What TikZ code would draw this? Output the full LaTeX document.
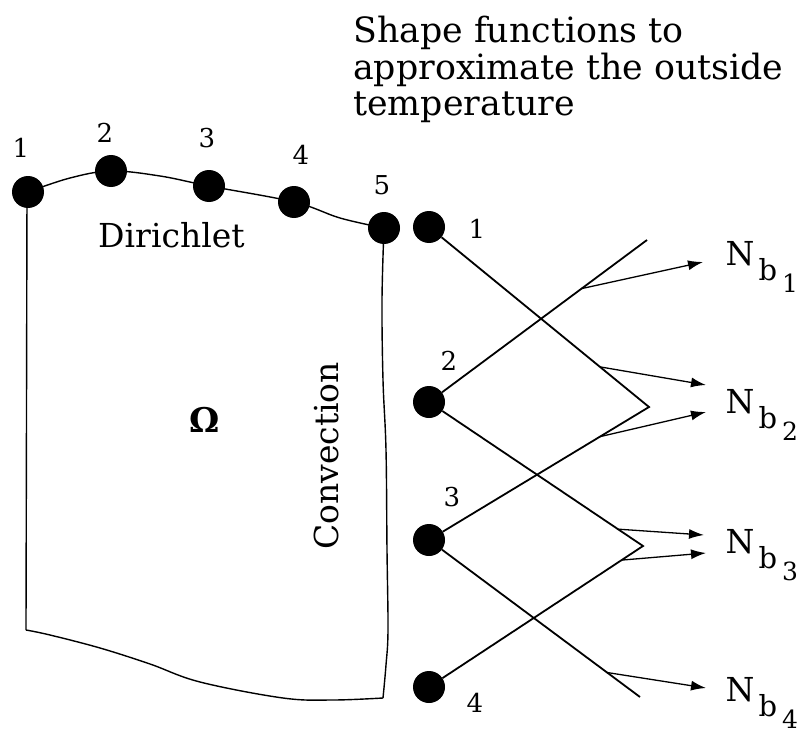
\documentclass[tikz,border=0pt]{standalone}
\usepackage{fontspec}
\setmainfont{DejaVu Serif}
\usetikzlibrary{arrows.meta,calc}
\begin{document}
\begin{tikzpicture}[x=1pt,y=-1pt,
  dot/.style={circle,fill=black,minimum size=32pt,inner sep=0pt},
  lbl/.style={font=\fontsize{26}{26}\selectfont,inner sep=0pt},
  bnd/.style={line width=1.4pt},
  fn/.style={line width=1.8pt},
  arr/.style={line width=1.3pt,-{Latex[length=15pt,width=10pt]}},
  Nlbl/.style={font=\fontsize{33}{33}\selectfont,inner sep=0pt},
  blbl/.style={font=\fontsize{29}{29}\selectfont,inner sep=0pt},
  dlbl/.style={font=\fontsize{25}{25}\selectfont,inner sep=0pt},
  ttl/.style={anchor=base west,inner sep=0pt,font=\fontsize{34.8}{36}\selectfont}]
\useasboundingbox (0,0) rectangle (803,733);
% title
\node[ttl] (t1) at (353,43) {Shape functions to};
\node[ttl] (t2) at (353,80) {approximate the outside};
\node[ttl] (t3) at (353,116) {temperature};
% boundary coordinates
\coordinate (c1) at (26,630);
\coordinate (c2) at (383,698);
% region boundary
\draw[bnd] (27,192) -- (c1);
\draw[bnd] plot[smooth,tension=0.6] coordinates {(c1) (50,635) (100,648) (150,664) (200,682) (283,698) (333,700) (c2)};
\draw[bnd] plot[smooth,tension=0.6] coordinates {(384,228) (382,300) (383,380) (386,450) (387,550) (388,630) (386,665) (c2)};
\draw[bnd] plot[smooth,tension=0.6] coordinates {(28,192) (70,178) (111,171) (160,176) (209,186) (294,202) (340,218) (384,228)};
% Dirichlet nodes
\node[dot] (d1) at (28,192) {};
\node[dot] (d2) at (111,171) {};
\node[dot] (d3) at (209,186) {};
\node[dot] (d4) at (294,202) {};
\node[dot] (d5) at (384,228) {};
\node[lbl] (l1) at (21,148) {1};
\node[lbl] (l2) at (105,133) {2};
\node[lbl] (l3) at (207,138) {3};
\node[lbl] (l4) at (301,155) {4};
\node[lbl] (l5) at (382,185) {5};
\node[anchor=base west,inner sep=0pt,font=\fontsize{33}{33}\selectfont] (dir) at (98,247) {Dirichlet};
\node[inner sep=0pt,font=\bfseries\fontsize{34}{34}\selectfont] (om) at (205,420) {Ω};
\node[rotate=90,inner sep=0pt,font=\fontsize{33}{33}\selectfont] (conv) at (326,456) {Convection};
% boundary nodes for outside temperature
\coordinate (P1) at (649,407);
\coordinate (P2) at (643,546);
\coordinate (T1) at (647,240);
\coordinate (E4) at (640,697);
\node[dot] (r1) at (429,227) {};
\node[dot] (r2) at (429,402) {};
\node[dot] (r3) at (429,540) {};
\node[dot] (r4) at (429,687) {};
\node[lbl] (m1) at (477,229) {1};
\node[lbl] (m2) at (449,361) {2};
\node[lbl] (m3) at (452,497) {3};
\node[lbl] (m4) at (475,703) {4};
% shape functions
\draw[fn] (r1) -- (P1) -- (r3);
\draw[fn] (r2) -- (T1);
\draw[fn] (r2) -- (P2) -- (r4);
\draw[fn] (r3) -- (E4);
% labels N_b
\foreach \i/\y in {1/254,2/402,3/542,4/690}{
  \node[Nlbl] (N\i) at (740,\y) {N};
  \node[blbl] (b\i) at (768,\y+16) {b};
  \node[dlbl] (n\i) at (790,\y+29) {\i};
}
\coordinate (h1) at (703,262);
\coordinate (h2) at (706,385);
\coordinate (h3) at (706,412);
\coordinate (h4) at (704,535);
\coordinate (h5) at (706,553);
\coordinate (h6) at (706,688);
\draw[arr] ($(r2)!0.70!(T1)$) -- (h1);
\draw[arr] ($(r1)!0.777!(P1)$) -- (h2);
\draw[arr] ($(r3)!0.777!(P1)$) -- (h3);
\draw[arr] ($(r2)!0.883!(P2)$) -- (h4);
\draw[arr] ($(r4)!0.90!(P2)$) -- (h5);
\draw[arr] ($(r3)!0.844!(E4)$) -- (h6);
\end{tikzpicture}
\end{document}
